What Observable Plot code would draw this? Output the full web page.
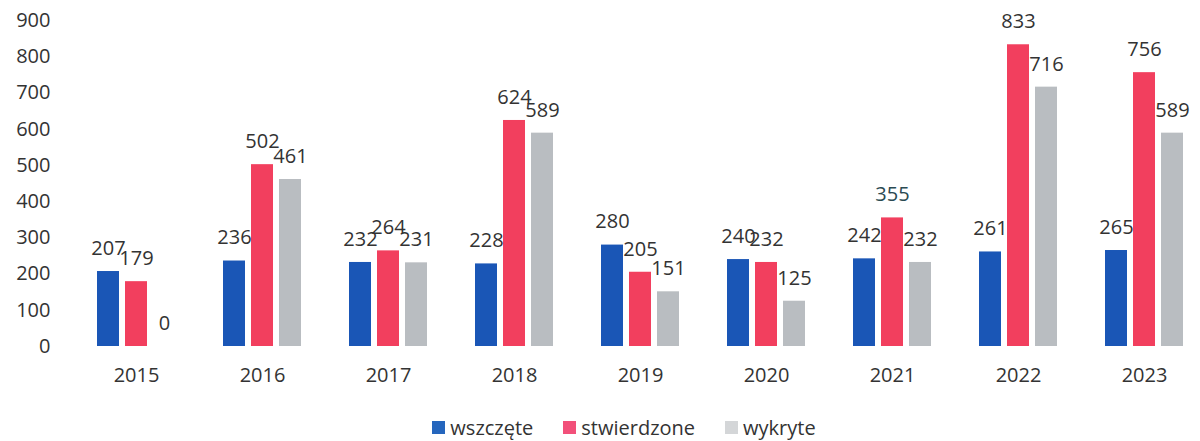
<!DOCTYPE html>
<html>
<head>
<meta charset="utf-8">
<script src="https://cdn.jsdelivr.net/npm/d3@7"></script>
<script src="https://cdn.jsdelivr.net/npm/@observablehq/plot@0.6"></script>
<style>
  html, body { margin: 0; padding: 0; background: #fff; overflow: hidden; }
  body { width: 1200px; height: 441px; font-family: "Open Sans", "Noto Sans", sans-serif; }
  #legend { display: flex; justify-content: center; gap: 30px; margin-top: 14px; padding-left: 48px; font-size: 20px; color: #333; }
  #legend .item { display: flex; align-items: center; gap: 5px; }
  #legend .sw { width: 13px; height: 13px; display: inline-block; }
</style>
</head>
<body>
<div id="chart"></div>
<div id="legend"></div>
<script>
const years = ["2015","2016","2017","2018","2019","2020","2021","2022","2023"];
const seriesNames = ["wszczęte","stwierdzone","wykryte"];
const wszczete    = [207, 236, 232, 228, 280, 240, 242, 261, 265];
const stwierdzone = [179, 502, 264, 624, 205, 232, 355, 833, 756];
const wykryte     = [0,   461, 231, 589, 151, 125, 232, 716, 589];
const yTicks = [0,100,200,300,400,500,600,700,800,900];
const colors = ["#1a56b6", "#f23f5e", "#b9bdc1"];

const seriesValues = [wszczete, stwierdzone, wykryte];
const data = [];
years.forEach((yr, i) => {
  seriesNames.forEach((s, j) => {
    data.push({year: yr, series: s, value: seriesValues[j][i]});
  });
});

const chart = Plot.plot({
  width: 1200,
  height: 400,
  marginTop: 20,
  marginBottom: 54,
  marginLeft: 81,
  marginRight: 0,
  style: {fontFamily: "'Open Sans', 'Noto Sans', sans-serif", fontSize: "20px", color: "#333", background: "#fff"},
  fx: {domain: years, paddingInner: 0.38, paddingOuter: 0.1, label: null, axis: "bottom", tickSize: 0, tickPadding: 21},
  x: {domain: seriesNames, paddingInner: 0.23, paddingOuter: 0, axis: null},
  y: {domain: [0, 900], ticks: yTicks, label: null, axis: null},
  color: {domain: seriesNames, range: colors},
  marks: [
    Plot.axisY({ticks: yTicks, tickSize: 0, tickPadding: 47, label: null, anchor: "left",
      fontSize: 20, fill: "#333"}),
    Plot.barY(data, {fx: "year", x: "series", y: "value", fill: "series"}),
    Plot.text(data, {fx: "year", x: "series", y: "value", text: d => String(d.value),
      dy: -23, fontSize: 20,
      fill: d => (d.year === "2021" && d.series === "stwierdzone") ? "#2a4a52" : "#333"})
  ]
});
document.getElementById("chart").appendChild(chart);

const legend = document.getElementById("legend");
seriesNames.forEach((s, j) => {
  const item = document.createElement("div");
  item.className = "item";
  const sw = document.createElement("span");
  sw.className = "sw";
  sw.style.background = j === 2 ? "#d4d6d8" : (j === 1 ? "#f2507a" : "#2566bd");
  const label = document.createElement("span");
  label.textContent = s;
  item.appendChild(sw);
  item.appendChild(label);
  legend.appendChild(item);
});
</script>
</body>
</html>
